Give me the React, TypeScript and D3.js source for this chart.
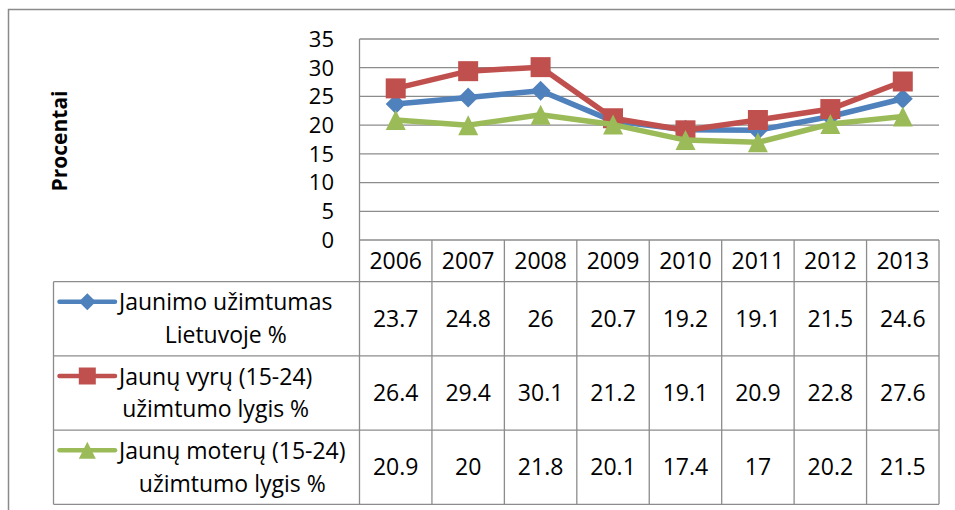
import React, { useEffect, useRef } from 'react';
import * as d3 from 'd3';

const years = ['2006', '2007', '2008', '2009', '2010', '2011', '2012', '2013'];
const youthTotal = [23.7, 24.8, 26, 20.7, 19.2, 19.1, 21.5, 24.6];
const youngMen = [26.4, 29.4, 30.1, 21.2, 19.1, 20.9, 22.8, 27.6];
const youngWomen = [20.9, 20, 21.8, 20.1, 17.4, 17, 20.2, 21.5];
const yTicks = [0, 5, 10, 15, 20, 25, 30, 35];
const seriesLabels = [
  ['Jaunimo užimtumas', 'Lietuvoje %'],
  ['Jaunų vyrų (15-24)', 'užimtumo lygis %'],
  ['Jaunų moterų (15-24)', 'užimtumo lygis %'],
];
const seriesColors = ['#4F81BD', '#C0504D', '#9BBB59'];
const seriesMarkers = ['diamond', 'square', 'triangle'];
const yTitle = 'Procentai';

function markerPath(kind: string, s: number) {
  const h = s / 2;
  if (kind === 'square') return `M${-h},${-h}H${h}V${h}H${-h}Z`;
  if (kind === 'diamond') return `M0,${-h}L${h},0L0,${h}L${-h},0Z`;
  return `M0,${-h}L${h},${h}L${-h},${h}Z`;
}

export default function App() {
  const ref = useRef<SVGSVGElement>(null);
  useEffect(() => {
    const svg = d3.select(ref.current);
    svg.selectAll('*').remove();
    const font = '"Open Sans", sans-serif';
    const lineGray = '#8c8c8c';
    const series = [youthTotal, youngMen, youngWomen];

    // outer frame
    svg.append('rect').attr('x', 8.5).attr('y', 9.5).attr('width', 1000).attr('height', 600)
      .attr('fill', 'none').attr('stroke', '#8a8a8a').attr('stroke-width', 1.5);

    const plotL = 359.5, plotR = 939, plotT = 39, plotB = 240;
    const tableL = 53.5, tableB = 504.3, headerH = 41.7;
    const x = d3.scaleBand().domain(years).range([plotL, plotR]);
    const y = d3.scaleLinear().domain([0, 35]).range([plotB, plotT]);
    const rows = d3.scaleBand().domain(['0', '1', '2']).range([plotB + headerH, tableB]);
    const cx = (i: number) => (x(years[i]) as number) + x.bandwidth() / 2;

    // gridlines
    svg.append('g').selectAll('line').data(yTicks.filter(t => t > 0)).join('line')
      .attr('x1', plotL).attr('x2', plotR).attr('y1', d => y(d)).attr('y2', d => y(d))
      .attr('stroke', lineGray).attr('stroke-width', 1.3);
    // y axis line
    svg.append('line').attr('x1', plotL).attr('x2', plotL).attr('y1', plotT).attr('y2', plotB)
      .attr('stroke', lineGray).attr('stroke-width', 1.3);
    // tick labels
    svg.append('g').selectAll('text').data(yTicks).join('text')
      .attr('x', 334).attr('y', d => y(d) + 0.357 * 22).attr('text-anchor', 'end')
      .attr('font-family', font).attr('font-size', 22).attr('fill', '#000').text(d => String(d));
    // title
    svg.append('text').attr('transform', 'translate(66.5,141) rotate(-90)').attr('text-anchor', 'middle')
      .attr('font-family', font).attr('font-weight', 'bold').attr('font-size', 21).attr('fill', '#000').text(yTitle);

    // table lines
    const tg = svg.append('g').attr('stroke', lineGray).attr('stroke-width', 1.3);
    tg.append('line').attr('x1', plotL).attr('x2', plotR).attr('y1', plotB).attr('y2', plotB);
    const hLines = [plotB + headerH, ...['0', '1', '2'].map(r => (rows(r) as number) + rows.bandwidth())];
    hLines.forEach(yy => tg.append('line').attr('x1', tableL).attr('x2', plotR).attr('y1', yy).attr('y2', yy));
    const vLines = [...years.map(yr => x(yr) as number), plotR];
    vLines.forEach(xx => tg.append('line').attr('x1', xx).attr('x2', xx).attr('y1', plotB).attr('y2', tableB));
    tg.append('line').attr('x1', tableL).attr('x2', tableL).attr('y1', plotB + headerH).attr('y2', tableB);

    // header
    svg.append('g').selectAll('text').data(years).join('text')
      .attr('x', (d, i) => cx(i)).attr('y', plotB + headerH / 2 + 0.357 * 23).attr('text-anchor', 'middle')
      .attr('font-family', font).attr('font-size', 23).attr('fill', '#000').text(d => d);

    // values
    series.forEach((vals, si) => {
      const rc = (rows(String(si)) as number) + rows.bandwidth() / 2;
      svg.append('g').selectAll('text').data(vals).join('text')
        .attr('x', (d, i) => cx(i)).attr('y', rc + 0.357 * 23).attr('text-anchor', 'middle')
        .attr('font-family', font).attr('font-size', 23).attr('fill', '#000').text(d => String(d));
    });

    // series lines and markers
    series.forEach((vals, si) => {
      const g = svg.append('g');
      const line = d3.line<number>().x((d, i) => cx(i)).y(d => y(d));
      g.append('path').attr('d', line(vals) as string).attr('fill', 'none')
        .attr('stroke', seriesColors[si]).attr('stroke-width', 5.5).attr('stroke-linejoin', 'round');
      g.selectAll('path.m').data(vals).join('path').attr('class', 'm')
        .attr('transform', (d, i) => `translate(${cx(i)},${y(d)})`)
        .attr('d', markerPath(seriesMarkers[si], 20)).attr('fill', seriesColors[si]);
    });

    // legend
    series.forEach((vals, si) => {
      const rc = (rows(String(si)) as number) + rows.bandwidth() / 2;
      const ly = rc - 17;
      svg.append('line').attr('x1', 59.5).attr('x2', 115).attr('y1', ly).attr('y2', ly)
        .attr('stroke', seriesColors[si]).attr('stroke-width', 4.5).attr('stroke-linecap', 'round');
      svg.append('path').attr('transform', `translate(87.3,${ly})`)
        .attr('d', markerPath(seriesMarkers[si], 17)).attr('fill', seriesColors[si]);
      const t1 = svg.append('text').attr('x', 119).attr('y', rc - 8.4)
        .attr('font-family', font).attr('font-size', 23).attr('fill', '#000').text(seriesLabels[si][0]);
      const w1 = (t1.node() as SVGTextElement).getComputedTextLength();
      svg.append('text').attr('x', 119 + w1 / 2).attr('y', rc + 24.3).attr('text-anchor', 'middle')
        .attr('font-family', font).attr('font-size', 23).attr('fill', '#000').text(seriesLabels[si][1]);
    });
  }, []);

  return (
    <svg ref={ref} width={955} height={510}
      style={{ position: 'absolute', left: 0, top: 0, background: '#fff' }} />
  );
}
